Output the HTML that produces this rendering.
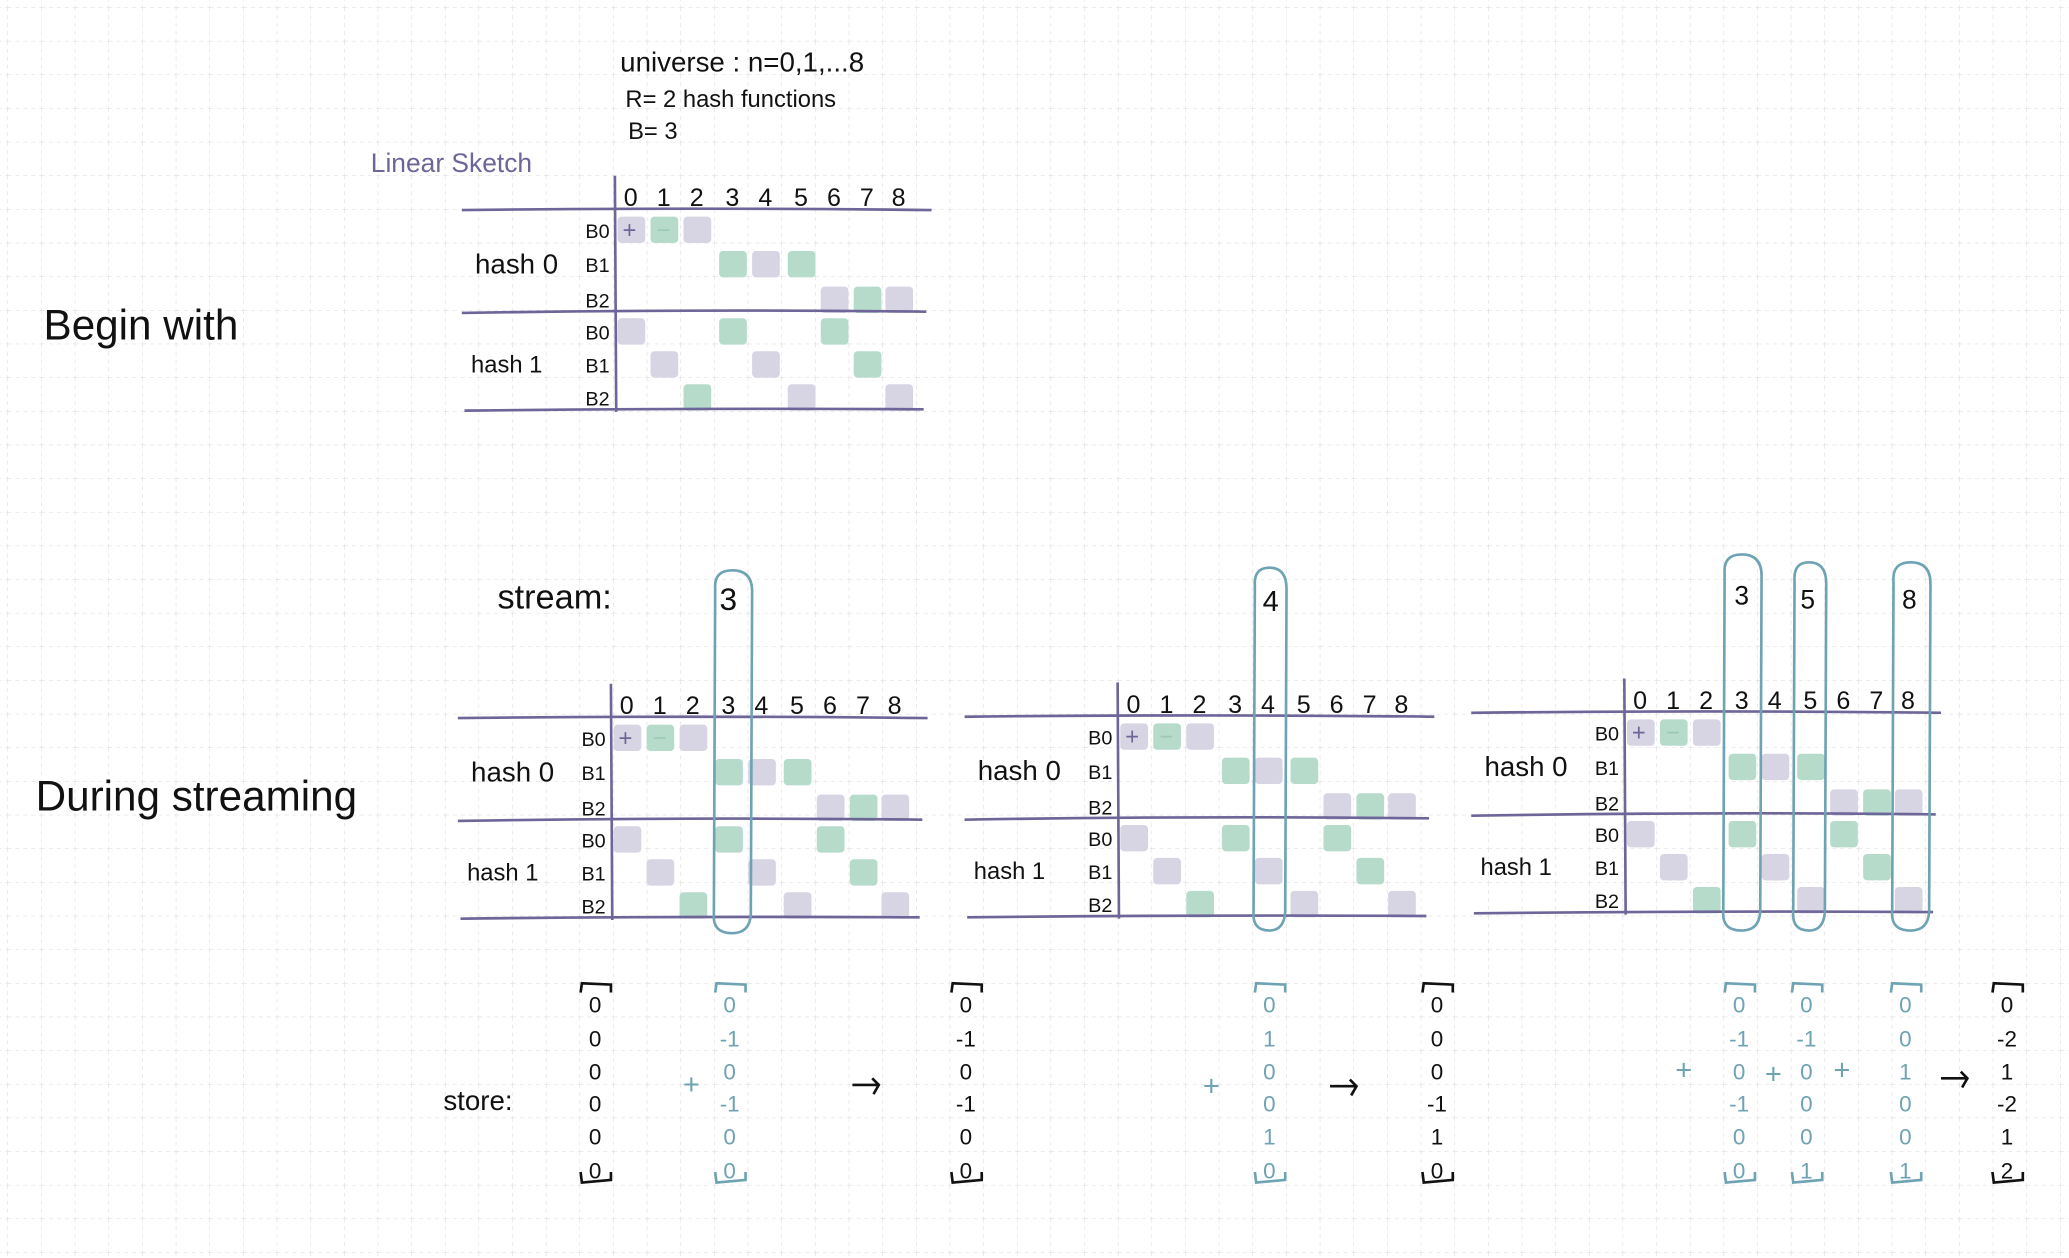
<!DOCTYPE html>
<html><head><meta charset="utf-8">
<style>
html,body{margin:0;padding:0;background:#fff;}
svg{display:block;}
text{font-family:"Liberation Sans Narrow","Liberation Sans",sans-serif;}
</style></head>
<body>
<svg id="s" width="2069" height="1258" viewBox="0 0 1568 953" xmlns="http://www.w3.org/2000/svg">
<defs>
<pattern id="g" x="5.7" y="5.3" width="25.5" height="25.5" patternUnits="userSpaceOnUse">
<path d="M0 0H25.5M0 0V25.5" stroke="#d9d9d9" stroke-width="0.8" stroke-dasharray="3 3" fill="none"/>
</pattern>
</defs>
<rect width="1568" height="953" fill="#fff"/>
<rect width="1568" height="953" fill="url(#g)"/>
<g id="c"></g>
</svg>
<script>
const NS="http://www.w3.org/2000/svg",C=document.getElementById('c');
function el(t,a,txt){const e=document.createElementNS(NS,t);for(const k in a)e.setAttribute(k,a[k]);if(txt!==undefined)e.textContent=txt;C.appendChild(e);return e;}
function tx(x,y,s,sz,col,anchor,ls){return el('text',{x:x,y:y,'font-size':sz,fill:col||'#111','text-anchor':anchor||'start','letter-spacing':ls||0},s);}
const P='#6e6698',PU='#d7d4e4',GR='#b6dbcb',BL='#6ea3b3';
// titles
tx(470,54,'universe :  n=0,1,...8',21,'#111');
tx(474,81,'R= 2  hash  functions',18,'#111');
tx(476,105,'B= 3',18,'#111');
tx(281,130,'Linear Sketch',20,P);
tx(33,257,'Begin  with',32,'#111');
tx(27,614,'During  streaming',32,'#111');
tx(377,461,'stream:',26,'#111');
tx(336,841,'store:',21,'#111');
const pat=[[[0,'p','+'],[1,'g','−'],[2,'p']],[[3,'g'],[4,'p'],[5,'g']],[[6,'p'],[7,'g'],[8,'p']],
[[0,'p'],[3,'g'],[6,'g']],[[1,'p'],[4,'p'],[7,'g']],[[2,'g'],[5,'p'],[8,'p']]];
const rl=['B0','B1','B2','B0','B1','B2'];
function table(vx,top){ // vx vertical line x, top = header line y
  const cols=[12,37,62,89,114,141,166,191,215].map(v=>vx+v);
  const rows=[15,41,68,92,117,142].map(v=>top+v);
  pat.forEach((r,ri)=>r.forEach(c=>{
    el('rect',{x:cols[c[0]]-10,y:rows[ri]-10,width:21,height:20,rx:3,fill:c[1]=='p'?PU:GR});
    if(c[2])tx(cols[c[0]]+(c[2]=='+'?-1:0),rows[ri]+6,c[2],18,c[2]=='+'?P:'#9cc9b6','middle');
  }));
  el('path',{d:`M${vx} ${top-26} L${vx+1} ${top+153}`,stroke:P,'stroke-width':2,fill:'none'});
  el('path',{d:`M${vx-116} ${top} Q${vx+60} ${top-2} ${vx+240} ${top}`,stroke:P,'stroke-width':2,fill:'none'});
  el('path',{d:`M${vx-116} ${top+78} Q${vx+60} ${top+75} ${vx+236} ${top+77}`,stroke:P,'stroke-width':2,fill:'none'});
  el('path',{d:`M${vx-114} ${top+152} Q${vx+60} ${top+150} ${vx+234} ${top+151}`,stroke:P,'stroke-width':2,fill:'none'});
  '012345678'.split('').forEach((d,i)=>tx(cols[i],top-3,d,19,'#111','middle'));
  rl.forEach((l,i)=>tx(vx-4,rows[i]+6,l,15,'#111','end'));
  tx(vx-106,top+48,'hash 0',21,'#111');
  tx(vx-109,top+123,'hash 1',18,'#111');
  return cols;
}
table(466,159);
const c2=table(463,544), c3=table(847,543), c4=table(1231,540);
function oval(x,y1,y2,w){w=w||30;el('path',{d:`M${x-w/2+2} ${y1+14} Q${x-w/2+1} ${y1} ${x} ${y1} Q${x+w/2} ${y1} ${x+w/2} ${y1+16} L${x+w/2-1} ${y2-14} Q${x+w/2-2} ${y2} ${x} ${y2} Q${x-w/2} ${y2} ${x-w/2+1} ${y2-14} Z`,stroke:BL,'stroke-width':2,fill:'none'});}
oval(555,432,707);oval(962,430,705,26);oval(1320,420,705);oval(1371,426,705,26);oval(1448,426,705);
tx(552,462,'3',24,'#111','middle');tx(963,463,'4',22,'#111','middle');
tx(1320,458,'3',20,'#111','middle');tx(1370,461,'5',20,'#111','middle');tx(1447,461,'8',20,'#111','middle');
// store vectors
const ry=[760,786,811,835,860,886];
function vec(x,vals,col){
  vals.forEach((v,i)=>tx(x,ry[i]+7,v,17,col,'middle'));
  el('path',{d:`M${x-11} ${752} L${x-10} ${745} L${x+12} ${746} L${x+12} ${752}`,stroke:col,'stroke-width':2,fill:'none'});
  el('path',{d:`M${x-11} ${888} L${x-10} ${896} L${x+12} ${894} L${x+12} ${888}`,stroke:col,'stroke-width':2,fill:'none'});
}
const K='#111';
vec(451,['0','0','0','0','0','0'],K);
vec(553,['0','-1','0','-1','0','0'],BL);
vec(732,['0','-1','0','-1','0','0'],K);
vec(962,['0','1','0','0','1','0'],BL);
vec(1089,['0','0','0','-1','1','0'],K);
vec(1318,['0','-1','0','-1','0','0'],BL);
vec(1369,['0','-1','0','0','0','1'],BL);
vec(1444,['0','0','1','0','0','1'],BL);
vec(1521,['0','-2','1','-2','1','2'],K);
[[524,829],[918,830],[1276,818],[1344,821],[1396,818]].forEach(p=>tx(p[0],p[1],'+',22,BL,'middle'));
function arrow(x,y){el('path',{d:`M${x-10} ${y} L${x+10} ${y} M${x+5} ${y-5} L${x+10} ${y} L${x+6} ${y+7}`,stroke:K,'stroke-width':2,fill:'none'});}
arrow(656,822);arrow(1018,823);arrow(1481,817);
</script>
</body></html>
